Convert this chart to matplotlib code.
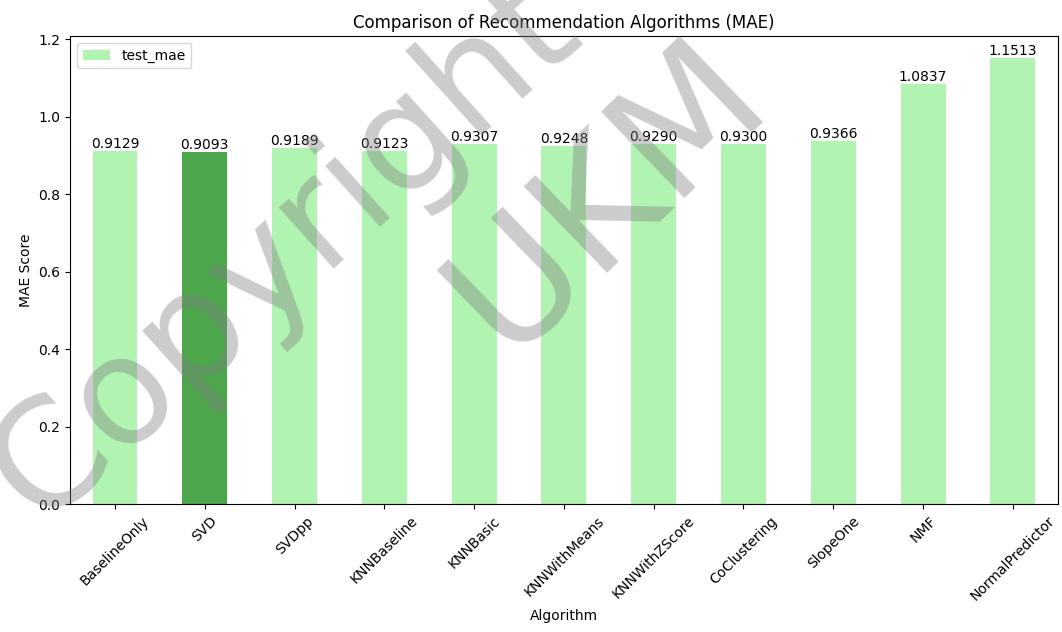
import matplotlib
matplotlib.use('Agg')
import matplotlib.pyplot as plt

algorithms = ['BaselineOnly', 'SVD', 'SVDpp', 'KNNBaseline', 'KNNBasic',
              'KNNWithMeans', 'KNNWithZScore', 'CoClustering', 'SlopeOne',
              'NMF', 'NormalPredictor']
test_mae = [0.9129, 0.9093, 0.9189, 0.9123, 0.9307, 0.9248, 0.9290,
            0.9300, 0.9366, 1.0837, 1.1513]
best = 'SVD'

colors = ['green' if a == best else 'lightgreen' for a in algorithms]

fig = plt.figure(figsize=(10.62, 6.32), dpi=100)
ax = fig.add_axes([0.066, 0.2025, 0.93, 0.7405])

x = range(len(algorithms))
bars = ax.bar(x, test_mae, width=0.5, color=colors, alpha=0.7, label='test_mae')
ax.bar_label(bars, fmt='%.4f', fontsize=10)

ax.set_xlim(-0.5, len(algorithms) - 0.5)
ax.set_ylim(0, max(test_mae) * 1.05)
ax.set_xticks(list(x))
ax.set_xticklabels(algorithms, rotation=45)
ax.set_title('Comparison of Recommendation Algorithms (MAE)', fontsize=12)
ax.set_xlabel('Algorithm')
ax.set_ylabel('MAE Score')
ax.legend(loc='upper left')

# watermark over the plot
fig.text(0.268, 0.604, 'Copyright', fontsize=108, color='gray', alpha=0.4,
         rotation=42, ha='center', va='center', rotation_mode='anchor', zorder=10)
fig.text(0.572, 0.690, 'UKM', fontsize=118, color='gray', alpha=0.4,
         rotation=44, ha='center', va='center', rotation_mode='anchor', zorder=10)

fig.savefig('out.png', dpi=100)
